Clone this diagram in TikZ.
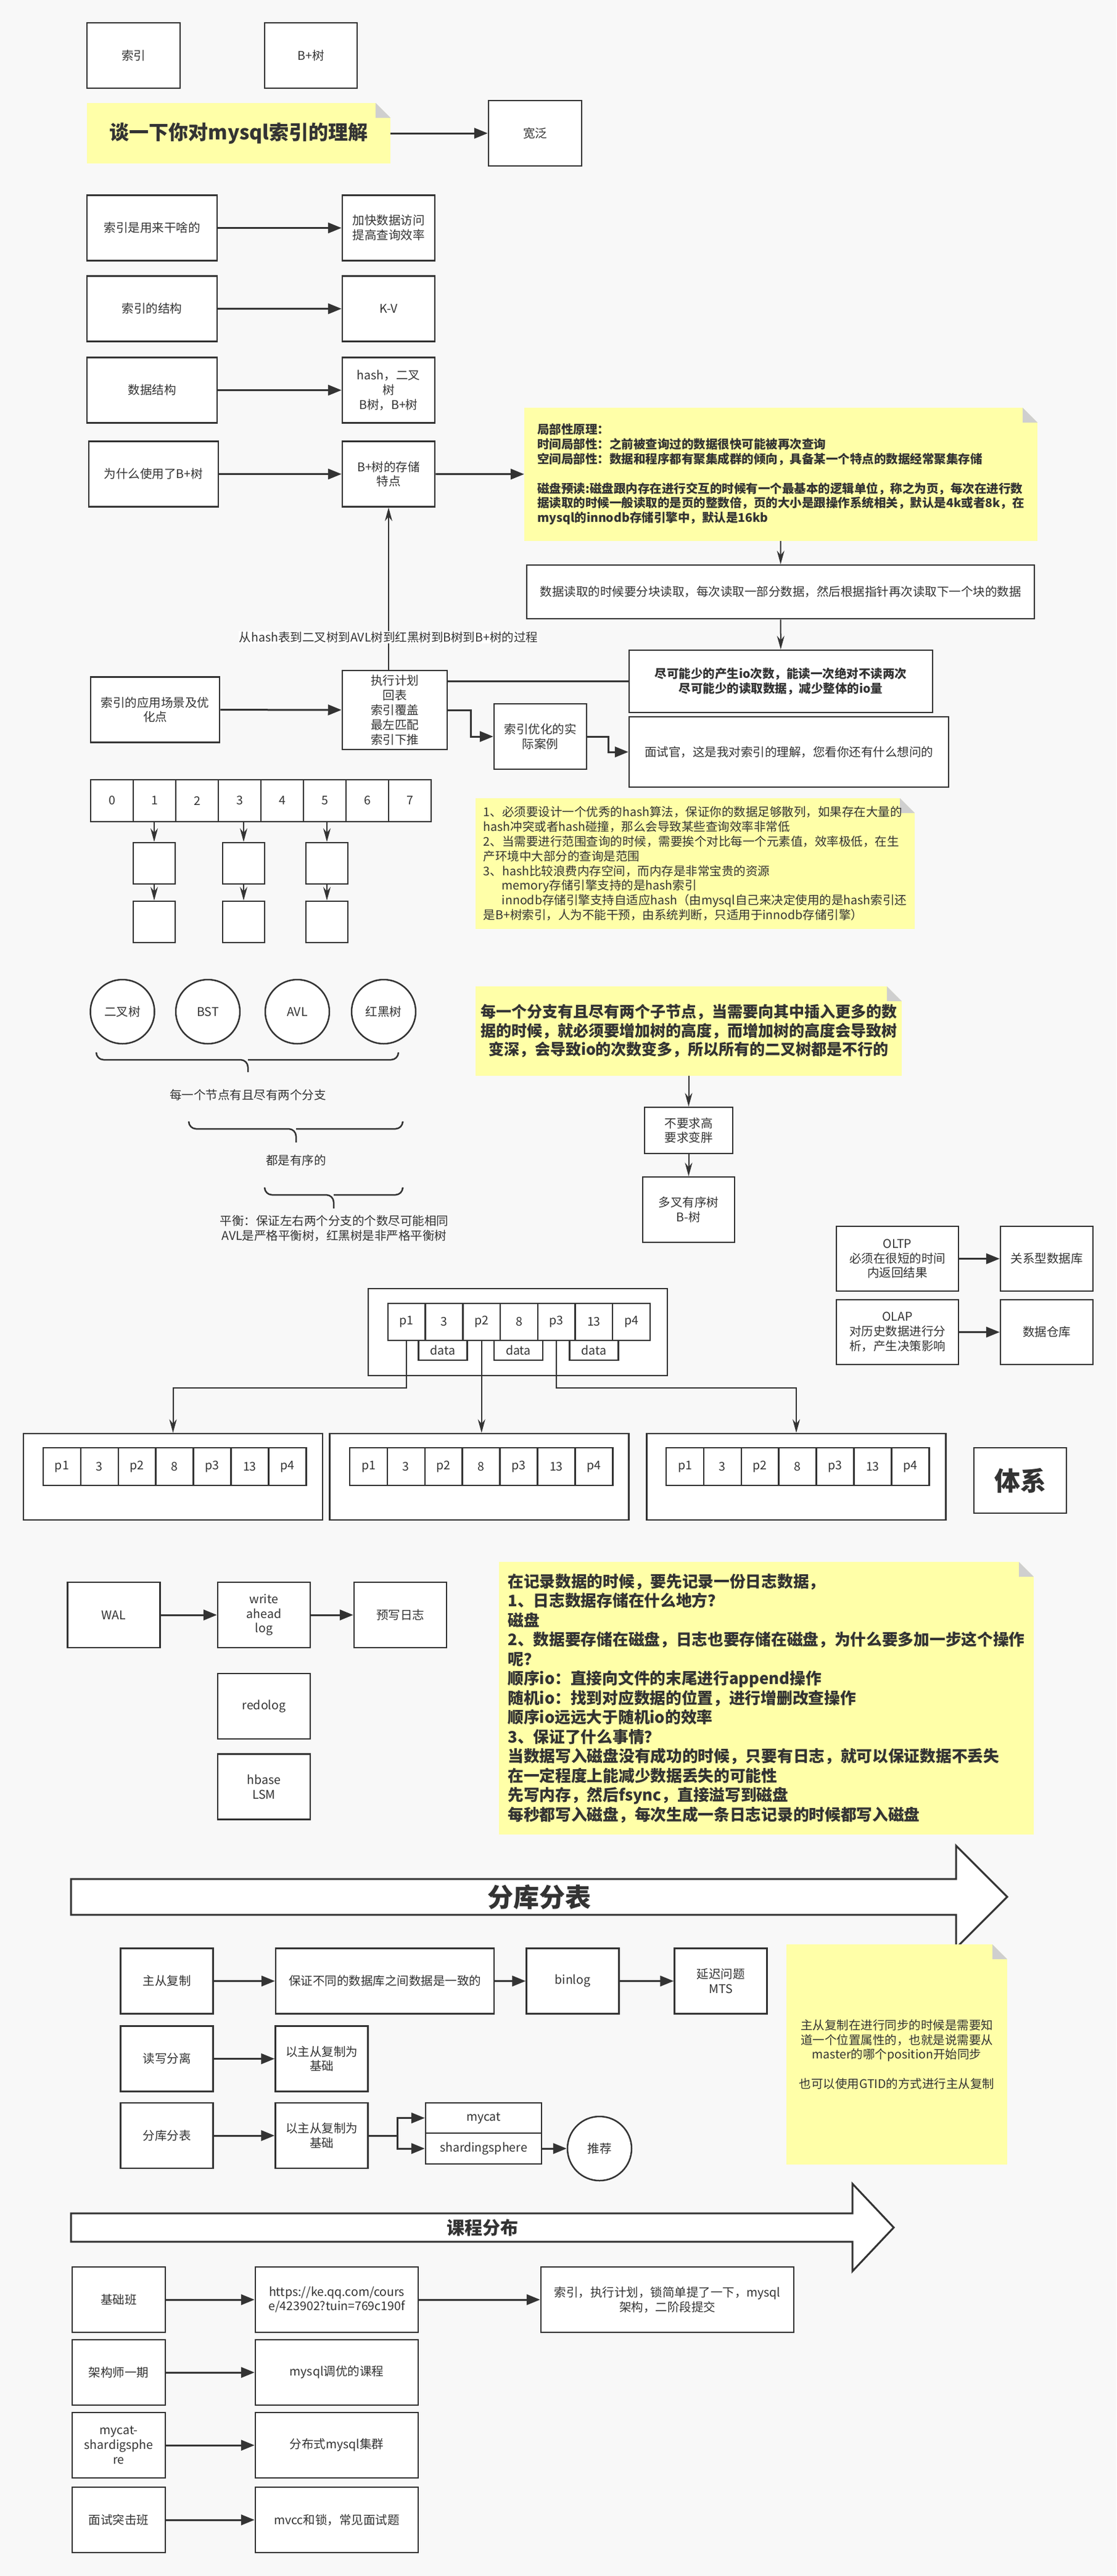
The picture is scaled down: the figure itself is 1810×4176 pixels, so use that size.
\documentclass[tikz,border=0pt]{standalone}
\usepackage{fontspec}
\setmainfont{Noto Sans CJK SC}
\usepackage{xcolor}
\usetikzlibrary{arrows.meta}
\pgfdeclarelayer{background}
\pgfsetlayers{background,main}
\definecolor{bg}{HTML}{F8F8F8}
\definecolor{dk}{HTML}{333333}
\definecolor{ny}{HTML}{FFFFA8}
\definecolor{fold}{HTML}{CFCFCF}
\newcommand\nf{\fontsize{19.5}{23.8}\selectfont}
\newcommand\bnf{\bfseries\fontsize{19.5}{23.8}\selectfont}
\tikzset{
  bx/.style={draw=dk, fill=white, line width=2.5pt, text=dk, font=\nf, align=center, inner sep=3pt, minimum width=150pt, minimum height=106pt},
  cl/.style={draw=dk, fill=white, line width=2.5pt, text=dk, font=\nf, inner sep=0pt},
  crc/.style={circle, draw=dk, fill=white, line width=2.5pt, text=dk, font=\nf, minimum size=104pt, inner sep=0pt},
  nt/.style={fill=ny, text=dk, inner sep=0pt, path picture={
      \fill[bg] (path picture bounding box.north east) -- ++(-24,0) -- ++(24,24) -- cycle;
      \fill[fold] ([xshift=-24pt]path picture bounding box.north east) -- ++(0,24) -- ++(24,0) -- cycle;}},
  arr/.style={draw=dk, line width=3pt, -{Triangle[length=22pt,width=17pt]}},
  tarr/.style={draw=dk, line width=2pt, -{Stealth[length=22pt,width=12pt]}},
  ln/.style={draw=dk, line width=3pt},
  brc/.style={draw=dk, line width=2.5pt, rounded corners=12pt},
  txt/.style={text=dk, font=\nf, align=center},
  lab/.style={fill=white, text=dk, font=\nf, inner sep=1pt},
  bigarr/.style={draw=dk, fill=white, line width=3pt, line join=miter}
}
\begin{document}
\begin{tikzpicture}[x=1pt,y=-1pt]
  \useasboundingbox (0,0) rectangle (1810,4176);
  \begin{pgfonlayer}{background}
    \fill[bg] (0,0) rectangle (1810,4176);
  \end{pgfonlayer}

  \node[bx,minimum width=151pt] (suoyin) at (216.5,90) {索引};
  \node[bx] (bshu) at (504,90) {B+树};
  \node[nt,minimum width=492pt,minimum height=98pt,font=\bfseries\fontsize{32}{38}\selectfont] (tanyixia) at (387,216) {谈一下你对mysql索引的理解};
  \node[bx,minimum width=151pt] (kuanfan) at (867.5,216) {宽泛};
  \draw[arr] (tanyixia) to (kuanfan);

  \node[bx,minimum width=211pt] (yongtu) at (246.5,369.5) {索引是用来干啥的};
  \node[bx] (jiakuai) at (630,369.5) {加快数据访问\\提高查询效率};
  \node[bx,minimum width=211pt] (jiegou) at (246.5,500.5) {索引的结构};
  \node[bx] (kv) at (630,500.5) {K-V};
  \node[bx,minimum width=211pt] (shujujg) at (246.5,632.5) {数据结构};
  \node[bx] (hashbt) at (630,632.5) {hash，二叉\\树\\B树，B+树};
  \node[bx,minimum width=210pt] (weisha) at (249,768.5) {为什么使用了B+树};
  \node[bx] (cunchu) at (630,768.5) {B+树的存储\\特点};
  \node[nt,minimum width=832pt,minimum height=216pt,align=left,font=\bnf] (jubu) at (1266,769) {局部性原理：\\时间局部性：之前被查询过的数据很快可能被再次查询\\空间局部性：数据和程序都有聚集成群的倾向，具备某一个特点的数据经常聚集存储\\[23.8pt]磁盘预读:磁盘跟内存在进行交互的时候有一个最基本的逻辑单位，称之为页，每次在进行数\\据读取的时候一般读取的是页的整数倍，页的大小是跟操作系统相关，默认是4k或者8k，在\\mysql的innodb存储引擎中，默认是16kb};
  \node[bx,minimum width=823pt,minimum height=87pt] (dukuai) at (1265.5,959.5) {数据读取的时候要分块读取，每次读取一部分数据，然后根据指针再次读取下一个块的数据};
  \node[bx,minimum width=492pt,minimum height=101pt,font=\bnf] (jinliang) at (1266,1104.5) {尽可能少的产生io次数，能读一次绝对不读两次\\尽可能少的读取数据，减少整体的io量};
  \node[bx,minimum width=209pt] (changjing) at (251.5,1150.5) {索引的应用场景及优\\化点};
  \node[bx,minimum width=170pt,minimum height=128pt] (zhixing) at (640,1151) {执行计划\\回表\\索引覆盖\\最左匹配\\索引下推};
  \node[bx] (anli) at (876,1194) {索引优化的实\\际案例};
  \node[bx,minimum width=518pt,minimum height=114pt] (mianshi) at (1279,1219) {面试官，这是我对索引的理解，您看你还有什么想问的};
  \draw[arr] (yongtu) to (jiakuai);
  \draw[arr] (jiegou) to (kv);
  \draw[arr] (shujujg) to (hashbt);
  \draw[arr] (weisha) to (cunchu);
  \draw[arr] (cunchu) to (jubu);
  \draw[tarr] (jubu) to (dukuai);
  \draw[tarr] (dukuai) to (jinliang);
  \draw[tarr] (zhixing.north -| cunchu) to node[pos=0.2,lab] {从hash表到二叉树到AVL树到红黑树到B树到B+树的过程} (cunchu);
  \draw[arr] (changjing) to (zhixing);
  \draw[ln] (zhixing.east |- jinliang) to (jinliang.west);
  \draw[arr] (zhixing.east) -- ++(37,0) |- (anli);
  \draw[arr] (anli.east) -- ++(34,0) |- (mianshi);

  \foreach \i in {0,...,7}
    \node[cl,minimum width=69pt,minimum height=68pt] (a\i) at ({181.5+69*\i},1298) {\i};
  \foreach \x [count=\j] in {250,395,530}{
    \node[cl,minimum width=68pt,minimum height=67pt] (u\j) at (\x,1399.5) {};
    \node[cl,minimum width=68pt,minimum height=67pt] (v\j) at (\x,1494.5) {};
    \draw[tarr] (u\j |- a1.south) to (u\j);
    \draw[tarr] (u\j) to (v\j);
  }
  \node[nt,minimum width=712pt,minimum height=212pt,align=left,font=\nf] (hashnote) at (1127,1400) {1、必须要设计一个优秀的hash算法，保证你的数据足够散列，如果存在大量的\\hash冲突或者hash碰撞，那么会导致某些查询效率非常低\\2、当需要进行范围查询的时候，需要挨个对比每一个元素值，效率极低，在生\\产环境中大部分的查询是范围\\3、hash比较浪费内存空间，而内存是非常宝贵的资源\\\hspace*{30pt}memory存储引擎支持的是hash索引\\\hspace*{30pt}innodb存储引擎支持自适应hash（由mysql自己来决定使用的是hash索引还\\是B+树索引，人为不能干预，由系统判断，只适用于innodb存储引擎）};

  \foreach \x/\t [count=\j] in {198.5/二叉树,337/BST,482/AVL,622/红黑树}
    \node[crc] (e\j) at (\x,1640) {\t};
  \draw[brc] (156,1706) |- (402,1718) -- (402,1738);
  \draw[brc] (646,1706) |- (402,1718);
  \node[txt] (fenzhi) at (402,1775) {每一个节点有且尽有两个分支};
  \draw[brc] (306,1820) |- (480,1830) -- (480,1852);
  \draw[brc] (653,1820) |- (480,1830);
  \node[txt] (youxu) at (480,1881) {都是有序的};
  \draw[brc] (429,1927) |- (541,1937) -- (541,1959);
  \draw[brc] (653,1927) |- (541,1937);
  \node[txt] (pingheng) at (542,1991) {平衡：保证左右两个分支的个数尽可能相同\\AVL是严格平衡树，红黑树是非严格平衡树};

  \node[nt,minimum width=691pt,minimum height=145pt,align=center,font=\bfseries\fontsize{25}{30.6}\selectfont] (ercha) at (1116.5,1671.5) {每一个分支有且尽有两个子节点，当需要向其中插入更多的数\\据的时候，就必须要增加树的高度，而增加树的高度会导致树\\变深，会导致io的次数变多，所以所有的二叉树都是不行的};
  \node[bx,minimum width=143pt,minimum height=75pt] (buyao) at (1116.5,1832.5) {不要求高\\要求变胖};
  \node[bx,minimum width=149pt] (duocha) at (1116.5,1961) {多叉有序树\\B-树};
  \draw[tarr] (ercha) to (buyao);
  \draw[tarr] (buyao) to (duocha);

  \node[bx,minimum width=198pt,minimum height=105pt] (oltp) at (1455,2040.5) {OLTP\\必须在很短的时间\\内返回结果};
  \node[bx,minimum height=105pt] (guanxi) at (1697,2040.5) {关系型数据库};
  \node[bx,minimum width=198pt,minimum height=105pt] (olap) at (1455,2159.5) {OLAP\\对历史数据进行分\\析，产生决策影响};
  \node[bx,minimum height=105pt] (cangku) at (1697,2159.5) {数据仓库};
  \draw[arr] (oltp) to (guanxi);
  \draw[arr] (olap) to (cangku);

  \node[bx,minimum width=485pt,minimum height=141pt] (root) at (839.5,2159.5) {};
  \foreach \t [count=\i] in {p1,3,p2,8,p3,13,p4}
    \node[cl,minimum width=60.7pt,minimum height=60pt] (r\i) at ({629+60.7*\i-30.35},2143) {\t};
  \foreach \x [count=\j] in {718,840.5,963}
    \node[cl,minimum width=79pt,minimum height=32pt] (d\j) at (\x,2189) {data};
  \foreach \cx/\lx [count=\k] in {280.5/70,777/567,1291/1080}{
    \node[bx,minimum width=485pt,minimum height=140pt] (ch\k) at (\cx,2394) {};
    \foreach \t [count=\i] in {p1,3,p2,8,p3,13,p4}
      \node[cl,minimum width=60.9pt,minimum height=61pt] (c\k\i) at ({\lx+60.9*\i-30.45},2377.5) {\t};
  }
  \draw[tarr] (r1.south) -- ++(0,76) -| (ch1.north);
  \draw[tarr] (r3.south) to (r3.south |- ch2.north);
  \draw[tarr] (r5.south) -- ++(0,76) -| (ch3.north);
  \node[bx,font=\bfseries\fontsize{42}{50}\selectfont] (tixi) at (1654,2400) {体系};

  \node[bx] (wal) at (184.5,2618) {WAL};
  \node[bx] (walfull) at (428,2618) {write\\ahead\\log};
  \node[bx] (yuxie) at (649,2618) {预写日志};
  \node[bx] (redo) at (428,2766) {redolog};
  \node[bx] (lsm) at (428,2896.5) {hbase\\LSM};
  \draw[arr] (wal) to (walfull);
  \draw[arr] (walfull) to (yuxie);
  \node[nt,minimum width=867pt,minimum height=442pt,align=left,font=\bfseries\fontsize{25.7}{31.5}\selectfont] (rizhi) at (1242.5,2753) {在记录数据的时候，要先记录一份日志数据，\\1、日志数据存储在什么地方？\\磁盘\\2、数据要存储在磁盘，日志也要存储在磁盘，为什么要多加一步这个操作\\呢？\\顺序io：直接向文件的末尾进行append操作\\随机io：找到对应数据的位置，进行增删改查操作\\顺序io远远大于随机io的效率\\3、保证了什么事情？\\当数据写入磁盘没有成功的时候，只要有日志，就可以保证数据不丢失\\在一定程度上能减少数据丢失的可能性\\先写内存，然后fsync，直接溢写到磁盘\\每秒都写入磁盘，每次生成一条日志记录的时候都写入磁盘};

  \draw[bigarr] (115,3046) -- (1550,3046) -- (1550,2992) -- (1633,3075) -- (1550,3158) -- (1550,3104) -- (115,3104) -- cycle;
  \node[text=dk,font=\bfseries\fontsize{42}{50}\selectfont] (fkfb) at (874,3075) {分库分表};
  \node[bx] (zhucong) at (270.5,3211.5) {主从复制};
  \node[bx,minimum width=354pt] (yizhi) at (624,3211.5) {保证不同的数据库之间数据是一致的};
  \node[bx] (binlog) at (928.5,3211.5) {binlog};
  \node[bx] (yanchi) at (1168.5,3211.5) {延迟问题\\MTS};
  \node[bx] (duxie) at (270.5,3337.5) {读写分离};
  \node[bx] (jichua) at (521.5,3337.5) {以主从复制为\\基础};
  \node[bx] (fenkubiao) at (270.5,3462) {分库分表};
  \node[bx] (jichub) at (521.5,3462) {以主从复制为\\基础};
  \node[bx,minimum width=188pt,minimum height=49pt] (mycat) at (784,3433.5) {mycat};
  \node[bx,minimum width=188pt,minimum height=50pt] (sharding) at (784,3483) {shardingsphere};
  \node[crc] (tuijian) at (972,3483) {推荐};
  \draw[arr] (zhucong) to (yizhi);
  \draw[arr] (yizhi) to (binlog);
  \draw[arr] (binlog) to (yanchi);
  \draw[arr] (duxie) to (jichua);
  \draw[arr] (fenkubiao) to (jichub);
  \draw[arr] (jichub.east) -- ++(47,0) |- (mycat);
  \draw[arr] (jichub.east) -- ++(47,0) |- (sharding);
  \draw[arr] (sharding) to (tuijian);
  \node[nt,minimum width=358pt,minimum height=357pt,align=center,font=\nf] (gtid) at (1454,3330.5) {主从复制在进行同步的时候是需要知\\道一个位置属性的，也就是说需要从\\master的哪个position开始同步\\[23.8pt]也可以使用GTID的方式进行主从复制};

  \draw[bigarr] (115,3588) -- (1382,3588) -- (1382,3540) -- (1449,3611) -- (1382,3682) -- (1382,3634) -- (115,3634) -- cycle;
  \node[text=dk,font=\bfseries\fontsize{29}{35}\selectfont] (kecheng) at (782,3611) {课程分布};
  \node[bx,minimum width=151pt] (jichuban) at (192.5,3728) {基础班};
  \node[bx,minimum width=264pt] (url) at (546,3728) {https://ke.qq.com/cours\\e/423902?tuin=769c190f};
  \node[bx,minimum width=410pt] (neirong) at (1082,3728) {索引，执行计划，锁简单提了一下，mysql\\架构，二阶段提交};
  \node[bx,minimum width=151pt] (jiagoushi) at (192.5,3846) {架构师一期};
  \node[bx,minimum width=264pt] (tiaoyou) at (546,3846) {mysql调优的课程};
  \node[bx,minimum width=151pt] (mycatsh) at (192.5,3964) {mycat-\\shardigsphe\\re};
  \node[bx,minimum width=264pt] (jiqun) at (546,3964) {分布式mysql集群};
  \node[bx,minimum width=151pt] (tuji) at (192.5,4085) {面试突击班};
  \node[bx,minimum width=264pt] (mvcc) at (546,4085) {mvcc和锁，常见面试题};
  \draw[arr] (jichuban) to (url);
  \draw[arr] (url) to (neirong);
  \draw[arr] (jiagoushi) to (tiaoyou);
  \draw[arr] (mycatsh) to (jiqun);
  \draw[arr] (tuji) to (mvcc);
\end{tikzpicture}
\end{document}
